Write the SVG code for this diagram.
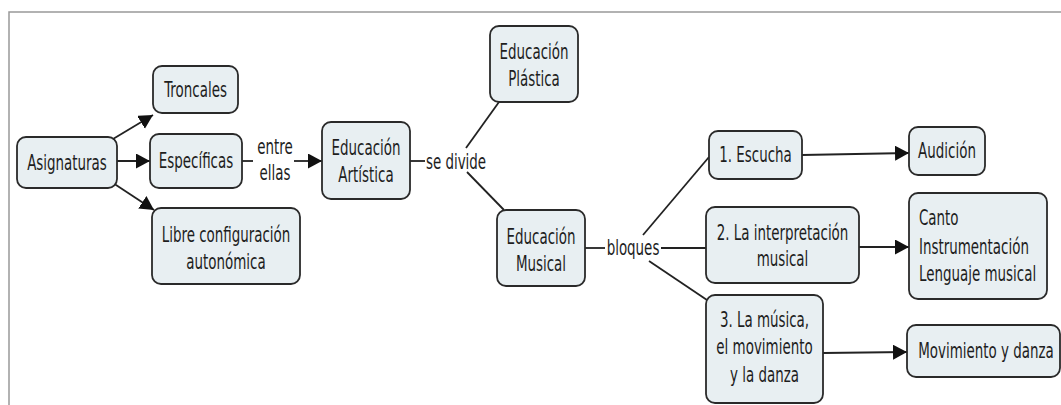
<svg xmlns="http://www.w3.org/2000/svg" width="1061" height="405" viewBox="0 0 1061 405">
<style>
.box{fill:#e8eff2;stroke:#2a2a2a;stroke-width:1.8}
.t{font-family:"DejaVu Sans",Verdana,sans-serif;font-size:21px;fill:#1e1e1e;text-anchor:middle}
.l{text-anchor:start}
.c{fill:none;stroke:#222;stroke-width:1.8}
.a{marker-end:url(#ah)}
.frame{stroke:#999;stroke-width:1.5;fill:none}
</style>
<defs>
<marker id="ah" markerUnits="userSpaceOnUse" markerWidth="16" markerHeight="16" refX="14" refY="7.5" orient="auto">
<path d="M0,0 L14,7.5 L0,15 z" fill="#111"/>
</marker>
</defs>
<rect width="1061" height="405" fill="#fff"/>
<path class="frame" d="M9,405 L9,12 L1061,12"/>
<g id="connectors">
<line class="c a" x1="113" y1="139" x2="153" y2="115"/>
<line class="c a" x1="117" y1="161" x2="150" y2="161"/>
<line class="c a" x1="113" y1="183" x2="154" y2="210"/>
<line class="c" x1="242" y1="161" x2="253" y2="161"/>
<line class="c a" x1="294" y1="161" x2="322" y2="161"/>
<line class="c" x1="410" y1="161" x2="425" y2="161"/>
<line class="c" x1="466" y1="148" x2="499" y2="102"/>
<line class="c" x1="467" y1="172" x2="504" y2="210"/>
<line class="c" x1="585" y1="248" x2="605" y2="248"/>
<line class="c" x1="643" y1="235" x2="709" y2="157"/>
<line class="c" x1="661" y1="248" x2="706" y2="248"/>
<line class="c" x1="649" y1="261" x2="707" y2="300"/>
<line class="c a" x1="802" y1="155" x2="909" y2="153"/>
<line class="c a" x1="859" y1="247" x2="909" y2="247"/>
<line class="c a" x1="823" y1="353" x2="907" y2="352"/>
<text class="t" transform="matrix(0.64 0 0 1 275 0)" y="154.5"><tspan x="0">entre</tspan><tspan x="0" y="180.5">ellas</tspan></text>
<text class="t" transform="matrix(0.64 0 0 1 456 0)" y="169.5">se divide</text>
<text class="t" transform="matrix(0.64 0 0 1 633 0)" y="255">bloques</text>
</g>
<g id="asignaturas">
<rect class="box" x="17" y="137" width="100" height="51" rx="9"/>
<text class="t" transform="matrix(0.64 0 0 1 67 0)" y="170">Asignaturas</text>
</g>
<g id="troncales">
<rect class="box" x="153" y="66" width="85" height="47" rx="9"/>
<text class="t" transform="matrix(0.64 0 0 1 195.5 0)" y="97">Troncales</text>
</g>
<g id="especificas">
<rect class="box" x="150" y="134" width="92" height="54" rx="9"/>
<text class="t" transform="matrix(0.64 0 0 1 196 0)" y="168.5">Específicas</text>
</g>
<g id="libre">
<rect class="box" x="152" y="208" width="148" height="76" rx="9"/>
<text class="t" transform="matrix(0.64 0 0 1 226 0)" y="242"><tspan x="0">Libre configuración</tspan><tspan x="0" y="269">autonómica</tspan></text>
</g>
<g id="artistica">
<rect class="box" x="322" y="122" width="88" height="77" rx="9"/>
<text class="t" transform="matrix(0.64 0 0 1 366 0)" y="155.5"><tspan x="0">Educación</tspan><tspan x="0" y="182.5">Artística</tspan></text>
</g>
<g id="plastica">
<rect class="box" x="490" y="26" width="88" height="76" rx="9"/>
<text class="t" transform="matrix(0.64 0 0 1 534 0)" y="59.5"><tspan x="0">Educación</tspan><tspan x="0" y="86.5">Plástica</tspan></text>
</g>
<g id="musical">
<rect class="box" x="497" y="210" width="88" height="76" rx="9"/>
<text class="t" transform="matrix(0.64 0 0 1 541 0)" y="244.5"><tspan x="0">Educación</tspan><tspan x="0" y="271">Musical</tspan></text>
</g>
<g id="escucha">
<rect class="box" x="709" y="131" width="93" height="48" rx="9"/>
<text class="t" transform="matrix(0.64 0 0 1 755.5 0)" y="162.5">1. Escucha</text>
</g>
<g id="audicion">
<rect class="box" x="909" y="127" width="76" height="48" rx="9"/>
<text class="t" transform="matrix(0.64 0 0 1 947 0)" y="158.5">Audición</text>
</g>
<g id="interpretacion">
<rect class="box" x="706" y="207" width="153" height="76" rx="9"/>
<text class="t" transform="matrix(0.64 0 0 1 782.5 0)" y="240.5"><tspan x="0">2. La interpretación</tspan><tspan x="0" y="266.5">musical</tspan></text>
</g>
<g id="canto">
<rect class="box" x="909" y="193" width="138" height="106" rx="9"/>
<text class="t l" transform="matrix(0.64 0 0 1 919 0)" y="225.5"><tspan x="0">Canto</tspan><tspan x="0" y="254">Instrumentación</tspan><tspan x="0" y="281.5">Lenguaje musical</tspan></text>
</g>
<g id="musica">
<rect class="box" x="706" y="295" width="117" height="108" rx="9"/>
<text class="t" transform="matrix(0.64 0 0 1 764.5 0)" y="327.5"><tspan x="0">3. La música,</tspan><tspan x="0" y="354.5">el movimiento</tspan><tspan x="0" y="382.5">y la danza</tspan></text>
</g>
<g id="movimiento">
<rect class="box" x="907" y="325" width="153" height="52" rx="9"/>
<text class="t" transform="matrix(0.64 0 0 1 986 0)" y="358.5">Movimiento y danza</text>
</g>
</svg>
